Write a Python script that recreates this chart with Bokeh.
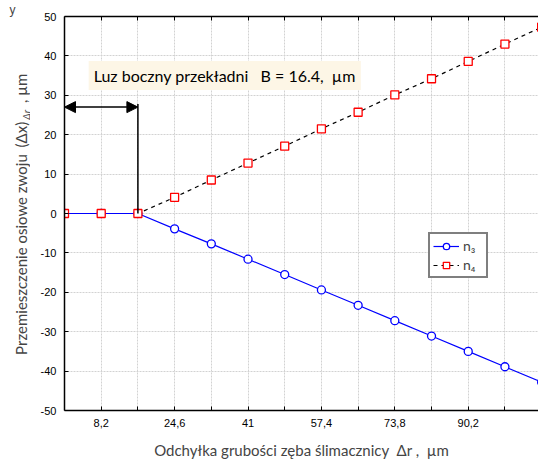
import math
from bokeh.plotting import figure
from bokeh.layouts import row
from bokeh.models import (Range1d, FixedTicker, LinearAxis, Label, Arrow, NormalHead,
                          Legend, LegendItem, ColumnDataSource, Title)
from bokeh.embed import file_html
from bokeh.resources import INLINE

# ---- data ----
x_vals = [0, 8.2, 16.4, 24.6, 32.8, 41, 49.2, 57.4, 65.6, 73.8, 82, 90.2, 98.4, 106.6]
n3_vals = [0, 0, 0, -3.9, -7.7, -11.6, -15.5, -19.4, -23.3, -27.2, -31.1, -35.0, -38.9, -42.8]
n4_vals = [0, 0, 0, 4.1, 8.5, 12.8, 17.1, 21.5, 25.7, 30.1, 34.2, 38.6, 43.0, 47.3]
x_all_ticks = [8.2 * i for i in range(1, 13)]
x_label_ticks = [8.2, 24.6, 41, 57.4, 73.8, 90.2]
x_tick_labels = ["8,2", "24,6", "41", "57,4", "73,8", "90,2"]
x_minor_ticks = [16.4, 32.8, 49.2, 65.6, 82, 98.4]
y_ticks = [-50, -40, -30, -20, -10, 0, 10, 20, 30, 40, 50]
y_tick_labels = ["-50", "-40", "-30", "-20", "-10", "0", "10", "20", "30", "40", "50"]
backlash_B = 16.4
arrow_y = 27
n3_label = "n\u2083"
n4_label = "n\u2084"
NB = "\u00a0"

TICK_FONT = "Liberation Sans"
LABEL_FONT = "Lato"

TOP, BOTTOM = 15, 49

# ---- left strip with the y-axis title (its frame is aligned with the main frame) ----
LW = 30
left = figure(width=LW, height=461, output_backend="svg", toolbar_location=None,
              x_range=Range1d(0, LW), y_range=Range1d(461 - BOTTOM, TOP),
              min_border_left=0, min_border_right=0, min_border_top=TOP, min_border_bottom=BOTTOM,
              x_axis_location=None, y_axis_location=None)
left.outline_line_color = None
left.grid.visible = False
left.title = Title(text="y", text_font=TICK_FONT, text_font_size="12px",
                   text_font_style="normal", standoff=0, offset=9, align="left")

left.add_layout(Label(x=20, y=356, text="Przemieszczenie osiowe zwoju", angle=math.pi / 2,
                      text_font=LABEL_FONT, text_font_size="15px", text_align="left",
                      text_baseline="middle"))
left.add_layout(Label(x=20, y=147, text="(Δx)", angle=math.pi / 2,
                      text_font=LABEL_FONT, text_font_size="15px", text_align="left",
                      text_baseline="middle"))
left.add_layout(Label(x=25, y=119, text="Δr", angle=math.pi / 2,
                      text_font=LABEL_FONT, text_font_size="10px", text_font_style="italic",
                      text_align="left", text_baseline="middle"))
left.add_layout(Label(x=20, y=106, text=NB + "," + NB + "µm", angle=math.pi / 2,
                      text_font=LABEL_FONT, text_font_size="15px", text_align="left",
                      text_baseline="middle"))

# ---- main plot ----
p = figure(width=538 - LW, height=461, output_backend="svg", toolbar_location=None,
           x_range=Range1d(0, 105.9), y_range=Range1d(-50, 50),
           min_border_left=64 - LW, min_border_right=0, min_border_top=TOP, min_border_bottom=BOTTOM,
           x_axis_location=None, y_axis_location=None)
p.outline_line_color = None
p.background_fill_color = "white"

xaxis = LinearAxis(ticker=FixedTicker(ticks=x_label_ticks, minor_ticks=x_minor_ticks))
xaxis.major_label_overrides = {t: l for t, l in zip(x_label_ticks, x_tick_labels)}
xaxis.axis_label = "Odchyłka grubości zęba ślimacznicy" + NB + NB + "Δr" + NB + "," + NB + NB + "µm"
xaxis.axis_label_text_font = LABEL_FONT
xaxis.axis_label_text_font_size = "15px"
xaxis.axis_label_text_font_style = "normal"
xaxis.axis_label_standoff = 11
p.add_layout(xaxis, "below")

yaxis = LinearAxis(ticker=FixedTicker(ticks=y_ticks, minor_ticks=[]))
yaxis.major_label_overrides = {t: l for t, l in zip(y_ticks, y_tick_labels)}
p.add_layout(yaxis, "left")

topaxis = LinearAxis(ticker=FixedTicker(ticks=[], minor_ticks=x_all_ticks))
p.add_layout(topaxis, "above")

for ax in (xaxis, yaxis, topaxis):
    ax.axis_line_color = "black"
    ax.axis_line_width = 1.5
    ax.major_tick_in = 4
    ax.major_tick_out = 0
    ax.minor_tick_in = 4
    ax.minor_tick_out = 0
    ax.major_tick_line_color = "black"
    ax.minor_tick_line_color = "black"
    ax.major_label_text_font = TICK_FONT
    ax.major_label_text_font_size = "11px"
    ax.major_label_text_color = "black"
    ax.major_label_standoff = 8

# grid
p.xgrid.ticker = FixedTicker(ticks=x_all_ticks, minor_ticks=[])
p.ygrid.ticker = FixedTicker(ticks=y_ticks, minor_ticks=[])
p.grid.grid_line_color = "#d2d2d2"
p.grid.grid_line_width = 1
p.grid.grid_line_dash = "2 1"

src = ColumnDataSource(dict(x=x_vals, n3=n3_vals, n4=n4_vals))

l4 = p.line("x", "n4", source=src, line_color="black", line_width=1.2, line_dash="4 4")
l3 = p.line("x", "n3", source=src, line_color="#0000ff", line_width=1.2)
s3 = p.scatter("x", "n3", source=src, marker="circle", size=8, fill_color="white",
               line_color="#0000ff", line_width=1.3)
s4 = p.scatter("x", "n4", source=src, marker="square", size=8, fill_color="white",
               line_color="#ff0000", line_width=1.3)

# annotation: backlash
p.segment(x0=[backlash_B], y0=[arrow_y + 0.8], x1=[backlash_B], y1=[0], line_color="black", line_width=1.5)
p.add_layout(Arrow(x_start=0, y_start=arrow_y, x_end=backlash_B, y_end=arrow_y,
                   line_color="black", line_width=1.5,
                   start=NormalHead(size=11, fill_color="black", line_color="black"),
                   end=NormalHead(size=11, fill_color="black", line_color="black")))

box_text = "Luz boczny przekładni" + NB * 3 + "B = 16.4," + NB + NB + "µm"
p.add_layout(Label(x=5.4, y=35.0, text=box_text,
                   text_font=LABEL_FONT, text_font_size="16px", text_color="black",
                   text_align="left", text_baseline="middle",
                   background_fill_color="#fdf6e6", padding=5))

legend = Legend(items=[LegendItem(label=n3_label, renderers=[l3, s3]),
                       LegendItem(label=n4_label, renderers=[l4, s4])],
                location=(364, 132))
legend.border_line_color = "black"
legend.border_line_width = 2
legend.background_fill_color = "white"
legend.background_fill_alpha = 1
legend.label_text_font = LABEL_FONT
legend.label_text_font_size = "14px"
legend.glyph_width = 26
legend.glyph_height = 16
legend.label_height = 16
legend.label_standoff = 4
legend.padding = 3
legend.spacing = 2
legend.margin = 0
p.add_layout(legend, "center")

open("out.html", "w").write(file_html(row(left, p), INLINE))
